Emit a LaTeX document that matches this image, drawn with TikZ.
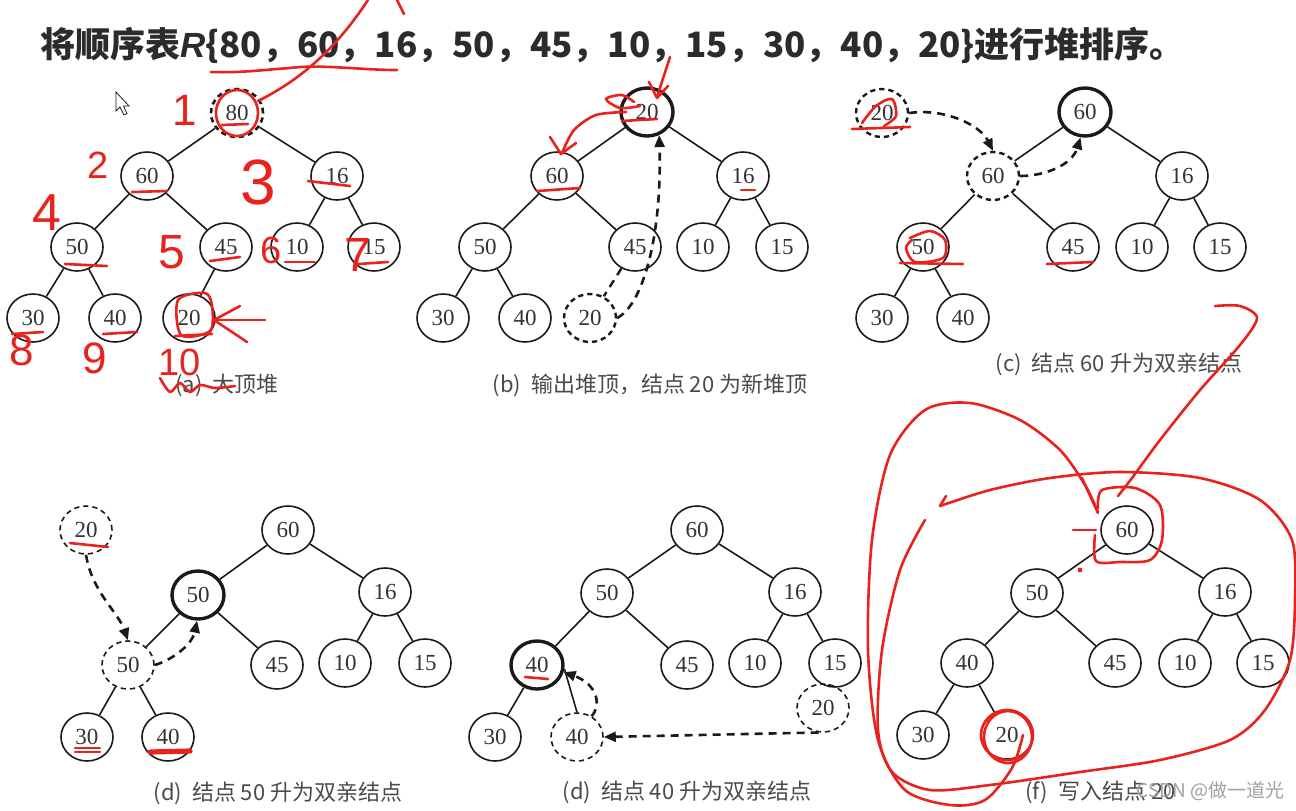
\documentclass[tikz,border=0pt]{standalone}
\usepackage{fontspec}
\setmainfont{Liberation Serif}
\setsansfont{Liberation Sans}
\newfontfamily\cjk{Noto Sans CJK SC}
\usetikzlibrary{arrows.meta,shapes.geometric,calc}
\definecolor{heapInk}{HTML}{1A1A1A}
\definecolor{heapText}{HTML}{333333}
\definecolor{heapMuted}{HTML}{4A4A4A}
\definecolor{heapTitle}{HTML}{2B2B2B}
\definecolor{penRed}{HTML}{E8231E}
\definecolor{markGray}{HTML}{A0A0A0}

\begin{document}
\begin{tikzpicture}[x=0.5pt,y=-0.5pt,
  key/.style={draw=heapInk,ellipse,line width=0.8pt,minimum width=26pt,
              minimum height=24pt,inner sep=0pt,text=heapText,
              font=\fontsize{11.5}{11.5}\selectfont},
  hot/.style={key,line width=1.7pt},
  ghost/.style={key,line width=0.8pt,dash pattern=on 2.6pt off 2pt},
  link/.style={heapInk,line width=0.8pt},
  move/.style={-{Triangle[length=6pt,width=5pt]},heapInk,line width=1.3pt,
               dash pattern=on 4pt off 3pt},
  figcap/.style={text=heapMuted,font=\cjk\fontsize{11}{13}\selectfont},
  pen/.style={penRed,line width=1.3pt,line cap=round,line join=round},
  penno/.style={text=penRed,inner sep=0pt,font=\sffamily}
]
\useasboundingbox (0,0) rectangle (1296,810);

% Title
\node[anchor=west,text=heapTitle,inner sep=0pt,
      font=\cjk\bfseries\fontsize{17.5}{20}\selectfont] (title) at (40,45)
  {将顺序表{\sffamily\itshape R}\{80，60，16，50，45，10，15，30，40，20\}进行堆排序。};

% (a) max heap
\node[ghost,line width=1.3pt] (a80) at (237,113) {80};
\node[key] (a60) at (147,176) {60};
\node[key] (a16) at (337,176) {16};
\node[key] (a50) at (77,247)  {50};
\node[key] (a45) at (226,247) {45};
\node[key] (a10) at (297,247) {10};
\node[key] (a15) at (374,247) {15};
\node[key] (a30) at (33,318)  {30};
\node[key] (a40) at (115,318) {40};
\node[key] (a20) at (189,318) {20};
\foreach \p/\c in {a80/a60,a80/a16,a60/a50,a60/a45,a16/a10,a16/a15,a50/a30,a50/a40,a45/a20}
  \draw[link] (\p) -- (\c);
\node[figcap] (capa) at (227,385) {(a)\ \ 大顶堆};

% (b) output the top
\node[hot] (b20) at (647,112) {20};
\node[key] (b60) at (557,176) {60};
\node[key] (b16) at (743,176) {16};
\node[key] (b50) at (485,247) {50};
\node[key] (b45) at (635,247) {45};
\node[key] (b10) at (703,247) {10};
\node[key] (b15) at (782,247) {15};
\node[key] (b30) at (443,318) {30};
\node[key] (b40) at (525,318) {40};
\node[ghost,line width=1.2pt] (bg20) at (590,318) {20};
\foreach \p/\c in {b20/b60,b20/b16,b60/b50,b60/b45,b16/b10,b16/b15,b50/b30,b50/b40}
  \draw[link] (\p) -- (\c);
\draw[link,line width=1.2pt,dash pattern=on 4pt off 3pt] (b45) -- (bg20);
\draw[move] (bg20.east) .. controls (642,305) and (662,240) .. (b20.-62);
\node[figcap] (capb) at (650,385) {(b)\ \ 输出堆顶，结点 20 为新堆顶};

% (c) 60 moves up
\node[ghost,line width=1.2pt] (cg20) at (882,113) {20};
\node[hot] (c60) at (1085,112) {60};
\node[ghost,line width=1.2pt] (cg60) at (993,176) {60};
\node[key] (c16) at (1182,176) {16};
\node[key] (c50) at (923,247)  {50};
\node[key] (c45) at (1073,247) {45};
\node[key] (c10) at (1142,247) {10};
\node[key] (c15) at (1220,247) {15};
\node[key] (c30) at (882,318)  {30};
\node[key] (c40) at (963,318)  {40};
\foreach \p/\c in {c60/cg60,c60/c16,cg60/c50,cg60/c45,c16/c10,c16/c15,c50/c30,c50/c40}
  \draw[link] (\p) -- (\c);
\draw[move] (cg20.east) .. controls (945,108) and (980,125) .. (cg60.north);
\draw[move] (cg60.east) .. controls (1045,176) and (1072,165) .. (c60.-100);
\node[figcap] (capc) at (1119,364) {(c)\ \ 结点 60 升为双亲结点};

% (d) 50 moves up
\node[ghost] (dg20) at (86,530) {20};
\node[key] (d60) at (288,530) {60};
\node[hot] (d50) at (198,595) {50};
\node[key] (d16) at (385,592) {16};
\node[ghost] (dg50) at (128,665) {50};
\node[key] (d45) at (277,665) {45};
\node[key] (d10) at (345,663) {10};
\node[key] (d15) at (425,663) {15};
\node[key] (d30) at (87,737)  {30};
\node[key] (d40) at (168,737) {40};
\foreach \p/\c in {d60/d50,d60/d16,d50/dg50,d50/d45,d16/d10,d16/d15,dg50/d30,dg50/d40}
  \draw[link] (\p) -- (\c);
\draw[move] (dg20.south) .. controls (92,592) and (118,612) .. (dg50.north);
\draw[move] (dg50.east) .. controls (172,660) and (192,645) .. (d50.-92);
\node[figcap] (capd) at (278,793) {(d)\ \ 结点 50 升为双亲结点};

% (d) 40 moves up
\node[key] (e60) at (697,530) {60};
\node[key] (e50) at (607,593) {50};
\node[key] (e16) at (795,592) {16};
\node[hot] (e40) at (537,665) {40};
\node[key] (e45) at (687,665) {45};
\node[key] (e10) at (755,663) {10};
\node[key] (e15) at (835,663) {15};
\node[key] (e30) at (495,737) {30};
\node[ghost] (eg40) at (577,737) {40};
\node[ghost] (eg20) at (823,708) {20};
\foreach \p/\c in {e60/e50,e60/e16,e50/e40,e50/e45,e16/e10,e16/e15,e40/e30,e15/eg20}
  \draw[link] (\p) -- (\c);
\draw[link] (eg40.north) -- (e40.-8);
\draw[move] (eg20.-100) -- (eg40.east);
\draw[move] (eg40.55) .. controls (602,705) and (597,684) .. (e40.-15);
\node[figcap] (cape) at (687,792) {(d)\ \ 结点 40 升为双亲结点};

% (f) write 20
\node[key] (f60) at (1127,530) {60};
\node[key] (f50) at (1037,593) {50};
\node[key] (f16) at (1225,592) {16};
\node[key] (f40) at (967,663)  {40};
\node[key] (f45) at (1115,663) {45};
\node[key] (f10) at (1185,663) {10};
\node[key] (f15) at (1263,663) {15};
\node[key] (f30) at (923,735)  {30};
\node[key] (f20) at (1007,735) {20};
\foreach \p/\c in {f60/f50,f60/f16,f50/f40,f50/f45,f16/f10,f16/f15,f40/f30,f40/f20}
  \draw[link] (\p) -- (\c);
\node[figcap,anchor=west] (capf) at (1018,792) {(f)\ \ 写入结点 20};
\node[text=markGray,anchor=west,inner sep=0pt,font=\cjk\fontsize{9.5}{11}\selectfont] (mark) at (1136,791)
  {CSDN @做一道光};

% mouse pointer
\draw[heapInk,line width=0.4pt,fill=white] (116,92) -- (116,111) -- (120,107) -- (124,115)
  -- (127,113.5) -- (123.5,106) -- (129,106) -- cycle;

% red pen marks
\draw[pen] (211,72) .. controls (240,73) and (262,70) .. (290,68)
  .. controls (320,64) and (360,70) .. (397,70);
\draw[pen] (258,101) .. controls (300,80) and (335,50) .. (368,0);
\draw[pen] (397,0) -- (404,14);
\node[penno,font=\sffamily\fontsize{22}{22}\selectfont] (m1) at (185,110) {1};
\node[penno,font=\sffamily\fontsize{19}{19}\selectfont] (m2) at (98,165) {2};
\node[penno,font=\sffamily\fontsize{32}{32}\selectfont] (m3) at (258,182) {3};
\node[penno,font=\sffamily\fontsize{26}{26}\selectfont] (m4) at (47,213) {4};
\node[penno,font=\sffamily\fontsize{24}{24}\selectfont] (m5) at (172,252) {5};
\node[penno,font=\sffamily\fontsize{19}{19}\selectfont] (m6) at (271,250) {6};
\node[penno,font=\sffamily\fontsize{24}{24}\selectfont] (m7) at (358,255) {7};
\node[penno,font=\sffamily\fontsize{22}{22}\selectfont] (m8) at (22,350) {8};
\node[penno,font=\sffamily\fontsize{22}{22}\selectfont] (m9) at (95,358) {9};
\node[penno,font=\sffamily\fontsize{19}{19}\selectfont] (m10) at (180,362) {10};
\draw[pen] (a80) ellipse (10.5pt and 11.5pt);
\draw[pen] (222,125) -- (248,124);
\draw[pen] (132,192) -- (167,191);
\draw[pen] (308,181) -- (350,186);
\draw[pen] (65,264) -- (107,266);
\draw[pen] (210,261) -- (240,257);
\draw[pen] (285,262) -- (315,262);
\draw[pen] (358,264) -- (388,262);
\draw[pen] (12,334) -- (43,332);
\draw[pen] (103,334) -- (137,332);
\draw[pen] (175,336) -- (212,334);
\draw[pen] plot[smooth cycle] coordinates {(178,300) (205,293) (212,306) (210,331) (181,335)};
\draw[pen] (213,320) -- (265,320);
\draw[pen] (240,306) -- (214,320) -- (247,342);
\draw[pen] plot[smooth] coordinates {(160,378) (170,392) (180,383) (190,392) (200,385) (215,388) (235,386)};
% (b)
\draw[pen] (670,57) -- (657,97);
\draw[pen] (649,82) -- (657,98) -- (668,86);
\draw[pen] plot[smooth] coordinates {(634,102) (622,95) (606,99) (620,108) (640,106)};
\draw[pen] plot[smooth] coordinates {(626,112) (596,115) (574,130) (562,153)};
\draw[pen] (550,137) -- (561,154) -- (576,143);
\draw[pen] (622,121) -- (657,119);
\draw[pen] (537,191) -- (580,188);
\draw[pen] (741,190) -- (755,190);
% (c)
\draw[pen] plot[smooth] coordinates {(862,123) (876,106) (892,99) (896,116) (884,126)};
\draw[pen] (852,129) -- (910,127);
\draw[pen] plot[smooth] coordinates {(910,238) (930,231) (945,240) (943,258) (915,262) (906,248) (912,240)};
\draw[pen] (900,263) -- (963,264);
\draw[pen] (1047,264) -- (1093,262);
\draw[pen] plot[smooth] coordinates {(1215,306) (1240,306) (1257,318) (1240,345) (1200,390)
  (1160,440) (1132,478) (1118,496)};
% (d)
\draw[pen] (70,543) -- (108,547);
\draw[pen] (75,748) -- (100,748);
\draw[pen] (75,752) -- (100,752);
\draw[pen,line width=2.6pt] (150,752) -- (190,751);
\draw[pen] (525,677) -- (548,679);
% (f)
\draw[pen] plot[smooth] coordinates {(1098,508) (1102,490) (1135,488) (1160,505)
  (1162,540) (1150,560) (1120,562) (1096,561) (1095,535)};
\draw[pen] (1073,530) -- (1096,530);
\draw[pen] plot[smooth] coordinates {(1023,735) (1012,768) (985,800) (950,805) (905,790)
  (878,740) (868,650) (872,540) (890,455) (925,410) (970,403) (1020,420) (1060,450)
  (1085,485) (1098,512)};
\draw[pen] (1082,478) -- (1098,513);
\draw[pen] plot[smooth] coordinates {(940,506) (990,490) (1050,478) (1120,472) (1200,478)
  (1260,500) (1292,540) (1295,600) (1290,660) (1265,710) (1230,740) (1160,760)
  (1080,772) (990,785) (930,790) (892,772) (878,730) (882,650) (900,570) (925,520)};
\draw[pen] (940,506) -- (946,496);
\draw[pen] (f20) ellipse (13pt and 12.5pt);
\draw[pen] ($(f20)+(1,2)$) ellipse (12pt and 13pt);
\fill[penRed] (1080,570) circle (1.2pt);
\end{tikzpicture}
\end{document}
